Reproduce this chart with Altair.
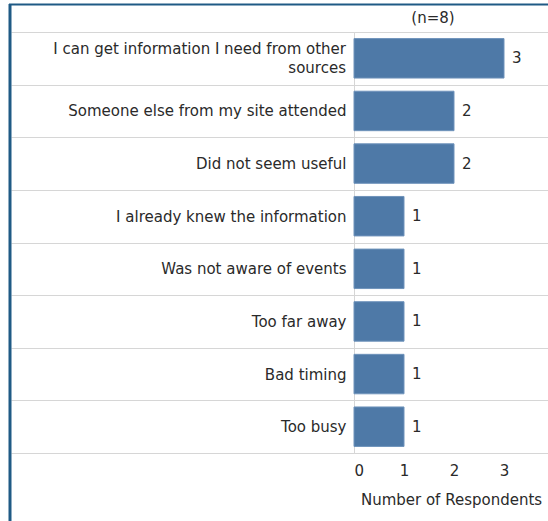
import altair as alt
import pandas as pd

categories = [
    "I can get information I need from other sources",
    "Someone else from my site attended",
    "Did not seem useful",
    "I already knew the information",
    "Was not aware of events",
    "Too far away",
    "Bad timing",
    "Too busy",
]
respondents = [3, 2, 2, 1, 1, 1, 1, 1]
wrapped_label = ["I can get information I need from other", "sources"]
x_ticks = [0, 1, 2, 3]
header = "(n=8)"

df = pd.DataFrame({"reason": categories, "n": respondents})

FONT = "DejaVu Sans"
TXT = "#2a2a2a"
LINE = "#d6d6d6"
BORDER = "#1f5a85"
LONG = categories[0]

y_axis_enc = alt.Y(
    "reason:N",
    sort=categories,
    scale=alt.Scale(paddingInner=0, paddingOuter=0),
    axis=alt.Axis(
        title=None,
        tickBand="extent",
        ticks=True,
        tickSize=343,
        tickColor=LINE,
        tickWidth=1,
        grid=True,
        gridColor=LINE,
        gridWidth=1,
        domain=True,
        domainColor=LINE,
        labelPadding=-335,
        labelFont=FONT,
        labelFontSize=15,
        labelColor=TXT,
        labelLimit=400,
        labelExpr=f"datum.label == '{LONG}' ? '' : datum.label",
    ),
)

x_enc = alt.X(
    "n:Q",
    scale=alt.Scale(domain=[0, 3.88], nice=False),
    axis=alt.Axis(
        title="Number of Respondents",
        values=x_ticks,
        grid=False,
        ticks=False,
        domain=False,
        labelFont=FONT,
        labelFontSize=15,
        labelColor=TXT,
        labelPadding=10,
        titleFont=FONT,
        titleFontSize=15,
        titleFontWeight="normal",
        titleColor=TXT,
        titlePadding=14,
    ),
)

bars = alt.Chart(df).mark_bar(
    color="#4e79a7", stroke="#6f93bb", strokeWidth=1,
    height=alt.RelativeBandSize(0.75),
).encode(x=x_enc, y=y_axis_enc)

labels = alt.Chart(df).mark_text(
    align="left", baseline="middle", dx=8, font=FONT, fontSize=15, color=TXT
).encode(x="n:Q", y=alt.Y("reason:N", sort=categories), text="n:Q")

wrap_df = pd.DataFrame({"reason": [LONG], "lines": [wrapped_label]})

wrapped = alt.Chart(wrap_df).mark_text(
    align="right", baseline="middle", dy=-9.5, lineHeight=19,
    font=FONT, fontSize=15, color=TXT,
).encode(
    x=alt.value(-8),
    y=alt.Y("reason:N", sort=categories),
    text="lines",
)

title_txt = alt.Chart(alt.Data(values=[{"t": header}])).mark_text(
    align="center", baseline="middle", font=FONT, fontSize=15, color=TXT
).encode(text="t:N", x=alt.value(79), y=alt.value(-14))

border = alt.Chart(alt.Data(values=[{"k": 1}])).mark_rule(
    color=BORDER, strokeWidth=3
).encode(x=alt.value(-344), y=alt.value(-28), y2=alt.value(489))

border_top = alt.Chart(alt.Data(values=[{"k": 2}])).mark_rule(
    color=BORDER, strokeWidth=2
).encode(x=alt.value(-345), x2=alt.value(194), y=alt.value(-27.5))

chart = (
    alt.layer(bars, labels, wrapped, title_txt, border, border_top)
    .properties(
        width=194,
        height=421,
        autosize=alt.AutoSizeParams(type="none"),
        padding={"left": 354, "top": 32, "right": 0, "bottom": 68},
    )
    .configure_view(stroke=None)
    .configure(background="white")
)

chart.save("out.html", embed_options={"renderer": "svg", "actions": False})
